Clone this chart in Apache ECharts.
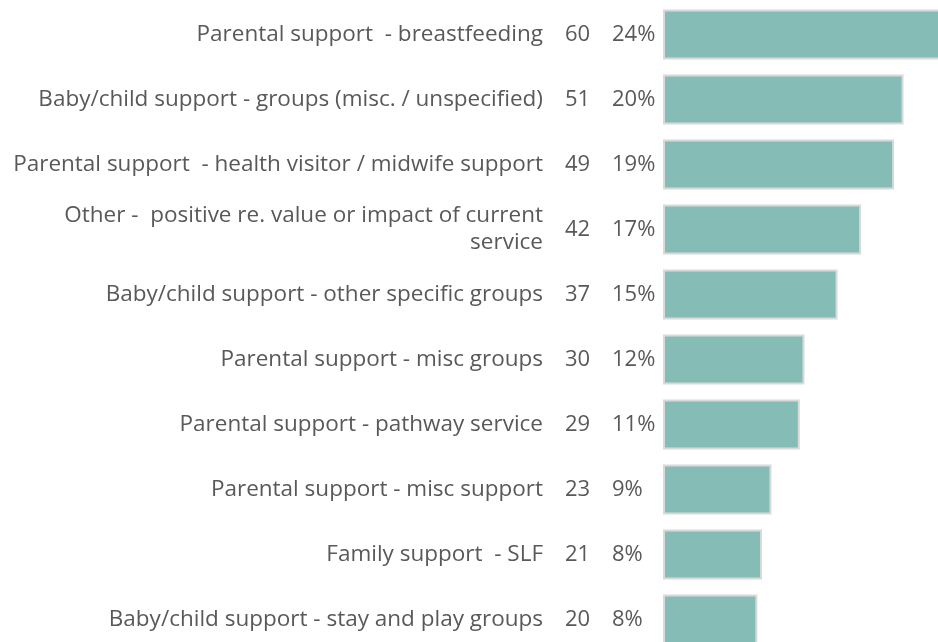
<!DOCTYPE html>
<html>
<head>
<meta charset="utf-8">
<script src="https://cdn.jsdelivr.net/npm/echarts@6/dist/echarts.min.js"></script>
<style>
  html, body { margin: 0; padding: 0; background: #fff; }
  #chart { width: 938px; height: 642px; }
</style>
</head>
<body>
<div id="chart"></div>
<script>
// categories, top to bottom
const categories = [
  'Parental support  - breastfeeding',
  'Baby/child support - groups (misc. / unspecified)',
  'Parental support  - health visitor / midwife support',
  'Other -  positive re. value or impact of current\nservice',
  'Baby/child support - other specific groups',
  'Parental support - misc groups',
  'Parental support - pathway service',
  'Parental support - misc support',
  'Family support  - SLF',
  'Baby/child support - stay and play groups'
]
const counts = [60, 51, 49, 42, 37, 30, 29, 23, 21, 20]
const percents = ['24%', '20%', '19%', '17%', '15%', '12%', '11%', '9%', '8%', '8%']

const textColor = '#595959'
const font = 'Open Sans'

let chart = echarts.init(document.getElementById('chart'))

let option = {
  animation: false,
  grid: {
    left: 663,
    width: 283, // the widest bar runs past the right edge
    top: 2,
    height: 650, // the last row runs past the bottom edge
    outerBoundsMode: 'none',
    containLabel: false
  },
  xAxis: {
    type: 'value',
    min: 0,
    max: 60,
    show: false
  },
  yAxis: [
    {
      type: 'category',
      inverse: true,
      data: categories,
      axisLine: { show: false },
      axisTick: { show: false },
      axisLabel: {
        margin: 120,
        color: textColor,
        fontFamily: font,
        fontSize: 22.5,
        lineHeight: 27,
        align: 'right'
      }
    },
    {
      type: 'category',
      inverse: true,
      position: 'left',
      data: counts.map((c, i) => c + '|' + percents[i]),
      axisLine: { show: false },
      axisTick: { show: false },
      axisLabel: {
        margin: 4,
        formatter: (v) => {
          let parts = v.split('|')
          return '{c|' + parts[0] + '}{p|' + parts[1] + '}'
        },
        rich: {
          c: { width: 47, align: 'left', color: textColor, fontFamily: font, fontSize: 22 },
          p: { width: 47, align: 'left', color: textColor, fontFamily: font, fontSize: 22 }
        }
      }
    }
  ],
  series: [
    {
      type: 'bar',
      data: counts,
      barWidth: 50,
      clip: false,
      itemStyle: {
        color: '#86bcb6',
        borderColor: '#d9d9d9',
        borderWidth: 2
      }
    }
  ]
}
chart.setOption(option)
</script>
</body>
</html>
